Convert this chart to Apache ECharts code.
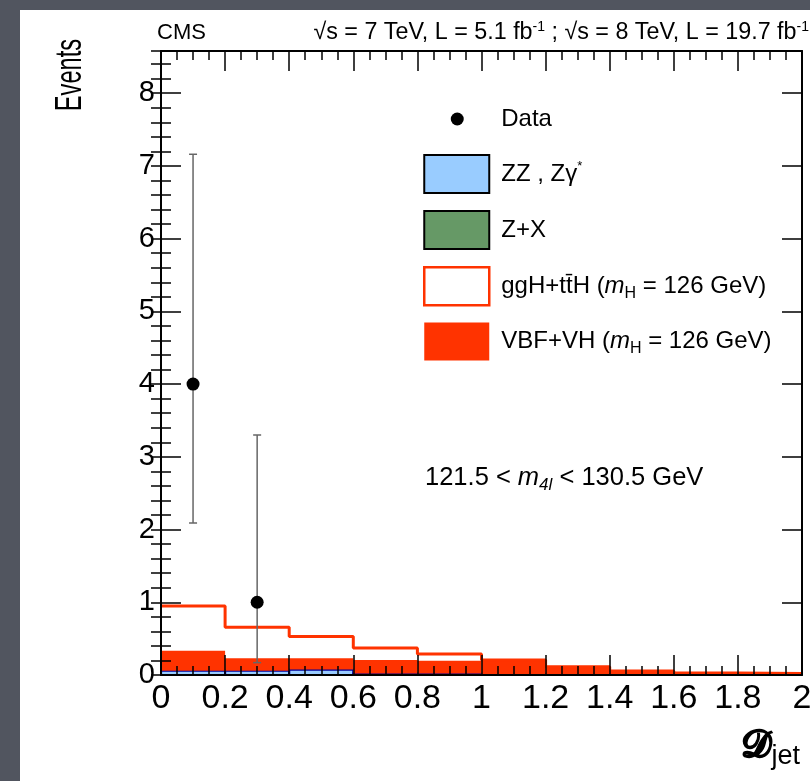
<!DOCTYPE html>
<html><head><meta charset="utf-8">
<script src="https://cdn.jsdelivr.net/npm/echarts@6/dist/echarts.min.js"></script>
<style>
html,body{margin:0;padding:0;width:810px;height:781px;overflow:hidden;background:#51555f;}
#chart{position:absolute;left:20px;top:10px;width:790px;height:771px;background:#fff;}
</style></head><body><div id="chart"></div>
<script>
// ---- data ----
const binEdges = [0, 0.2, 0.4, 0.6, 0.8, 1.0, 1.2, 1.4, 1.6, 1.8, 2.0];
const zzValues  = [0.06, 0.06, 0.075, 0.02, 0.02, 0.012, 0.01, 0.008, 0.008, 0.008];
const zxValues  = [0, 0, 0, 0, 0, 0, 0, 0, 0, 0];
const vbfValues = [0.275, 0.17, 0.155, 0.186, 0.177, 0.185, 0.10, 0.042, 0.014, 0.010];
const gghValues = [0.615, 0.425, 0.30, 0.164, 0.093, 0.008, 0.005, 0.006, 0.005, 0.004];
const dataX = [0.1, 0.3];
const dataY = [4, 1];
const dataErrLow = [2.09, 0.17];
const dataErrHigh = [7.16, 3.30];
const yTickLabels = [0, 1, 2, 3, 4, 5, 6, 7, 8];
const xTickLabels = [0, 0.2, 0.4, 0.6, 0.8, 1, 1.2, 1.4, 1.6, 1.8, 2];

// ---- stacking ----
const nb = zzValues.length;
const base0 = new Array(nb).fill(0);
const top1 = base0.map((b, i) => b + zzValues[i]);
const top2 = top1.map((b, i) => b + zxValues[i]);
const top3 = top2.map((b, i) => b + vbfValues[i]);
const top4 = top3.map((b, i) => b + gghValues[i]);

const FONT = 'Liberation Sans';
const RED = '#ff3300';

function histSeries(name, base, top, fill, stroke, lw, z) {
  return {
    type: 'custom', name: name, xAxisIndex: 0, yAxisIndex: 0, clip: true, z: z,
    data: top.map((t, i) => [binEdges[i], binEdges[i + 1], base[i], t]),
    encode: { x: [0, 1], y: [2, 3] },
    renderItem: function (params, api) {
      const p0 = api.coord([api.value(0), api.value(3)]);
      const p1 = api.coord([api.value(1), api.value(2)]);
      return { type: 'rect',
        shape: { x: p0[0], y: p0[1], width: p1[0] - p0[0], height: p1[1] - p0[1] },
        style: { fill: fill, stroke: stroke, lineWidth: lw } };
    }
  };
}

const chart = echarts.init(document.getElementById('chart'), null, { renderer: 'canvas' });

const axisLineStyle = { color: '#000', width: 2 };
const yMax = 8.58;

const dataIcon = 'path://M0,0L0,0M65,0L65,0M0,38L0,38M65,38L65,38M39.5,19A6.5,6.5,0,1,1,26.5,19A6.5,6.5,0,1,1,39.5,19Z';

const legendLabels = {
  'Data': '{t|Data}',
  'ZZ': '{t|ZZ , Zγ}{sup|*}',
  'ZX': '{t|Z+X}',
  'ggH': '{t|ggH+tt\u0304H (}{i|m}{sub|H}{t| = 126 GeV)}',
  'VBF': '{t|VBF+VH (}{i|m}{sub|H}{t| = 126 GeV)}'
};

const option = {
  animation: false,
  backgroundColor: '#fff',
  grid: { left: 141, top: 41, right: 8, bottom: 106, containLabel: false, outerBoundsMode: 'none' },
  xAxis: [
    { type: 'value', position: 'bottom', min: 0, max: 2, interval: 0.2, z: 10,
      axisLine: { show: true, onZero: false, lineStyle: axisLineStyle },
      axisTick: { show: true, inside: true, length: 20, lineStyle: { color: '#000', width: 1.5 } },
      minorTick: { show: true, splitNumber: 4, length: 9, lineStyle: { color: '#000', width: 1.5 } },
      axisLabel: { show: true, customValues: xTickLabels, fontSize: 34, fontFamily: FONT, color: '#000', margin: 7 },
      splitLine: { show: false }, minorSplitLine: { show: false } },
    { type: 'value', position: 'top', min: 0, max: 2, interval: 0.2, z: 10,
      axisLine: { show: true, onZero: false, lineStyle: axisLineStyle },
      axisTick: { show: true, inside: true, length: 20, lineStyle: { color: '#000', width: 1.5 } },
      minorTick: { show: true, splitNumber: 4, length: 9, lineStyle: { color: '#000', width: 1.5 } },
      axisLabel: { show: false }, splitLine: { show: false } }
  ],
  yAxis: [
    { type: 'value', position: 'left', min: 0, max: yMax, z: 10,
      axisLine: { show: true, onZero: false, lineStyle: axisLineStyle },
      axisTick: { show: true, inside: true, length: 20, customValues: yTickLabels, lineStyle: { color: '#000', width: 1.5 } },
      axisLabel: { show: true, customValues: yTickLabels, fontSize: 29, fontFamily: FONT, color: '#000', margin: 6 },
      splitLine: { show: false } },
    { type: 'value', position: 'left', min: 0, max: yMax, interval: 0.2, z: 10,
      axisLine: { show: false },
      axisTick: { show: true, inside: true, length: 10, lineStyle: { color: '#000', width: 1.5 } },
      axisLabel: { show: false }, splitLine: { show: false } },
    { type: 'value', position: 'right', min: 0, max: yMax, z: 10,
      axisLine: { show: true, onZero: false, lineStyle: axisLineStyle },
      axisTick: { show: true, inside: true, length: 20, customValues: yTickLabels, lineStyle: { color: '#000', width: 1.5 } },
      axisLabel: { show: false }, splitLine: { show: false } },
    { type: 'value', position: 'right', min: 0, max: yMax, interval: 0.2, z: 10,
      axisLine: { show: false },
      axisTick: { show: true, inside: true, length: 10, lineStyle: { color: '#000', width: 1.5 } },
      axisLabel: { show: false }, splitLine: { show: false } }
  ],
  legend: {
    orient: 'vertical', left: 403, top: 90, padding: 0, itemWidth: 65, itemHeight: 38, itemGap: 16,
    selectedMode: false,
    data: [
      { name: 'Data', icon: dataIcon, itemStyle: { color: '#000', borderWidth: 0 } },
      { name: 'ZZ', icon: 'rect', itemStyle: { color: '#99ccff', borderColor: '#000', borderWidth: 2 } },
      { name: 'ZX', icon: 'rect', itemStyle: { color: '#669966', borderColor: '#000', borderWidth: 2 } },
      { name: 'ggH', icon: 'rect', itemStyle: { color: '#fff', borderColor: RED, borderWidth: 2.5 } },
      { name: 'VBF', icon: 'rect', itemStyle: { color: RED, borderColor: RED, borderWidth: 0 } }
    ],
    formatter: function (name) { return legendLabels[name]; },
    textStyle: {
      color: '#000', fontFamily: FONT, fontSize: 24, padding: [0, 0, 0, 7],
      rich: {
        t: { fontSize: 24, fontFamily: FONT, color: '#000' },
        i: { fontSize: 24, fontFamily: FONT, fontStyle: 'italic', color: '#000' },
        sub: { fontSize: 16, fontFamily: FONT, color: '#000', padding: [14, 0, 0, 0] },
        sup: { fontSize: 13, fontFamily: FONT, color: '#000', padding: [0, 0, 16, 0] }
      }
    }
  },
  series: [
    histSeries('ZZ', base0, top1, '#99ccff', '#000099', 2.2, 3),
    histSeries('ZX', top1, top2, '#669966', '#000', 0, 3),
    histSeries('VBF', top2, top3, RED, RED, 0, 3),
    { type: 'line', name: 'ggH', xAxisIndex: 0, yAxisIndex: 0, step: 'end', symbol: 'none', z: 4,
      data: binEdges.map((x, i) => [x, top4[Math.min(i, nb - 1)]]),
      lineStyle: { color: RED, width: 3 }, itemStyle: { color: RED } },
    { type: 'custom', name: 'DataErr', xAxisIndex: 0, yAxisIndex: 0, z: 5,
      data: dataX.map((x, i) => [x, dataErrLow[i], dataErrHigh[i]]),
      encode: { x: 0, y: [1, 2] },
      renderItem: function (params, api) {
        const x = api.value(0);
        const pLo = api.coord([x, api.value(1)]);
        const pHi = api.coord([x, api.value(2)]);
        const c = 4, st = { stroke: '#666', lineWidth: 1.5 };
        return { type: 'group', children: [
          { type: 'line', shape: { x1: pLo[0], y1: pLo[1], x2: pHi[0], y2: pHi[1] }, style: st },
          { type: 'line', shape: { x1: pLo[0] - c, y1: pLo[1], x2: pLo[0] + c, y2: pLo[1] }, style: st },
          { type: 'line', shape: { x1: pHi[0] - c, y1: pHi[1], x2: pHi[0] + c, y2: pHi[1] }, style: st }
        ] };
      } },
    { type: 'scatter', name: 'Data', xAxisIndex: 0, yAxisIndex: 0, z: 6,
      data: dataX.map((x, i) => [x, dataY[i]]),
      symbol: 'circle', symbolSize: 13, itemStyle: { color: '#000', opacity: 1 } }
  ],
  graphic: [
    { type: 'text', x: 137, y: 23, style: { text: 'CMS', fontSize: 22, fontFamily: FONT, fill: '#000', textAlign: 'left', textVerticalAlign: 'middle' } },
    { type: 'text', x: 789, y: 23, style: {
        text: '{t|\u221As = 7 TeV, L = 5.1 fb}{sup|-1}{t| ; \u221As = 8 TeV, L = 19.7 fb}{sup|-1}',
        fontFamily: FONT, fill: '#000', textAlign: 'right', textVerticalAlign: 'middle',
        rich: { t: { fontSize: 23.3, fontFamily: FONT, fill: '#000' }, sup: { fontSize: 14, fontFamily: FONT, fill: '#000', padding: [0, 0, 12, 0] } } } },
    { type: 'text', x: 51, y: 65, rotation: Math.PI / 2, scaleX: 0.64,
      style: { text: 'Events', fontSize: 37, fontFamily: FONT, fill: '#000', textAlign: 'center', textVerticalAlign: 'middle' } },
    { type: 'text', x: 780, y: 737, style: {
        text: '{d|\uD835\uDC9F}{s|jet}', textAlign: 'right', textVerticalAlign: 'middle',
        rich: { d: { fontSize: 38, fontFamily: 'DejaVu Serif', fontWeight: 'bold', fill: '#000', stroke: '#000', lineWidth: 1.2 },
                s: { fontSize: 27, fontFamily: FONT, fill: '#000', padding: [20, 0, 0, 0] } } } },
    { type: 'text', x: 405, y: 468, style: {
        text: '{t|121.5 < }{i|m}{sub|4}{si|l}{t| < 130.5 GeV}', textAlign: 'left', textVerticalAlign: 'middle',
        rich: { t: { fontSize: 25.5, fontFamily: FONT, fill: '#000' }, i: { fontSize: 25.5, fontFamily: FONT, fontStyle: 'italic', fill: '#000' },
                sub: { fontSize: 17, fontFamily: FONT, fontStyle: 'italic', fill: '#000', padding: [14, 0, 0, 0] },
                si: { fontSize: 17, fontFamily: FONT, fontStyle: 'italic', fill: '#000', padding: [14, 0, 0, 0] } } } }
  ]
};
chart.setOption(option);
</script></body></html>
